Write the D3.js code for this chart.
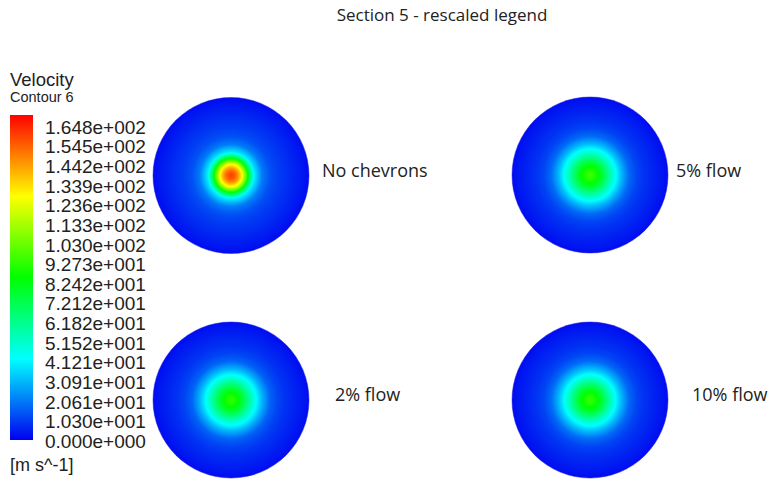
<!DOCTYPE html>
<html>
<head>
<meta charset="utf-8">
<script src="https://cdn.jsdelivr.net/npm/d3@7"></script>
<style>
  html, body { margin: 0; padding: 0; background: #fff; }
  svg { display: block; }
</style>
</head>
<body>
<svg id="chart" width="771" height="479"></svg>
<script>
// Velocity contour legend (m/s)
const tickLabels = ["1.648e+002","1.545e+002","1.442e+002","1.339e+002","1.236e+002","1.133e+002",
  "1.030e+002","9.273e+001","8.242e+001","7.212e+001","6.182e+001","5.152e+001","4.121e+001",
  "3.091e+001","2.061e+001","1.030e+001","0.000e+000"];
const vMin = 0, vMax = 164.8;

// Radial velocity profiles at section 5 (fraction of radius -> velocity, m/s)
const radialPos = [0, 0.05, 0.1, 0.15, 0.2, 0.25, 0.3, 0.4, 0.5, 0.6, 0.7, 0.8, 0.9, 1.0];
const caseNames = ["No chevrons", "5% flow", "2% flow", "10% flow"];
const noChevrons = [155, 150, 138, 120, 92, 62, 38, 20, 13, 10, 8, 6, 4, 2];
const flow5 = [92, 89, 83, 75, 66, 56, 47, 30, 17, 11, 8, 6, 4, 2];
const flow2 = [90, 87, 81, 73, 64, 54, 45, 29, 16, 11, 8, 6, 4, 2];
const flow10 = [91, 88, 82, 74, 65, 55, 46, 30, 17, 11, 8, 6, 4, 2];
const profiles = [noChevrons, flow5, flow2, flow10];

const svg = d3.select("#chart");
const defs = svg.append("defs");

// Rainbow colour map: blue - cyan - green - yellow - red
const color = d3.scaleLinear()
  .domain([0, 0.25, 0.5, 0.75, 1].map(t => vMin + t * (vMax - vMin)))
  .range(["#0000f0", "#00ffff", "#00ff00", "#ffff00", "#ff0000"])
  .clamp(true);

const sans = "'Liberation Sans', Arial, sans-serif";
const human = "'Open Sans', sans-serif";

// Title
svg.append("text")
  .attr("x", 442).attr("y", 21)
  .attr("text-anchor", "middle")
  .style("font-family", human)
  .style("font-size", "17px")
  .attr("fill", "#222")
  .text("Section 5 - rescaled legend");

// Legend header
svg.append("text").attr("x", 10).attr("y", 86)
  .style("font-family", sans)
  .style("font-size", "18.5px").attr("fill", "#222").text("Velocity");
svg.append("text").attr("x", 10).attr("y", 102)
  .style("font-family", sans)
  .style("font-size", "14.5px").attr("fill", "#222").text("Contour 6");

// Colour bar
const barTop = 115, barBottom = 440, barX = 10, barW = 23;
const barGrad = defs.append("linearGradient").attr("id", "barGrad")
  .attr("x1", 0).attr("y1", 1).attr("x2", 0).attr("y2", 0);
d3.range(0, 1.0001, 0.05).forEach(t => {
  barGrad.append("stop").attr("offset", t)
    .attr("stop-color", color(vMin + t * (vMax - vMin)));
});
svg.append("rect").attr("x", barX).attr("y", barTop)
  .attr("width", barW).attr("height", barBottom - barTop)
  .attr("fill", "url(#barGrad)");

// Legend tick labels
const labelScale = d3.scaleLinear().domain([vMin, vMax]).range([441, 127]);
svg.append("g").selectAll("text").data(tickLabels).join("text")
  .attr("x", 45)
  .attr("y", d => labelScale(parseFloat(d)))
  .attr("dy", "0.36em")
  .style("font-family", sans)
  .style("font-size", "19px")
  .attr("fill", "#222")
  .text(d => d);

svg.append("text").attr("x", 10).attr("y", 471)
  .style("font-family", sans)
  .style("font-size", "18px").attr("fill", "#222").text("[m s^-1]");

// Contour discs
const cx = [231, 590, 231, 590];
const cy = [175.5, 175, 400, 400];
const R = 78;
const labelX = [322, 676, 335, 692];
const labelY = [177, 177, 401, 401];

profiles.forEach((prof, i) => {
  const vAt = d3.scaleLinear().domain(radialPos).range(prof);
  const grad = defs.append("radialGradient").attr("id", "disc" + i)
    .attr("cx", 0.5).attr("cy", 0.5).attr("r", 0.5);
  d3.range(0, 1.0001, 0.01).forEach(t => {
    grad.append("stop").attr("offset", t).attr("stop-color", color(vAt(t)));
  });
  svg.append("circle")
    .attr("cx", cx[i]).attr("cy", cy[i]).attr("r", R)
    .attr("fill", `url(#disc${i})`)
    .attr("stroke", "#1a1ae0").attr("stroke-width", 0.8).attr("stroke-opacity", 0.6);

  svg.append("text")
    .attr("x", labelX[i]).attr("y", labelY[i])
    .style("font-family", human)
    .style("font-size", "18px")
    .attr("fill", "#222")
    .text(caseNames[i]);
});
</script>
</body>
</html>
